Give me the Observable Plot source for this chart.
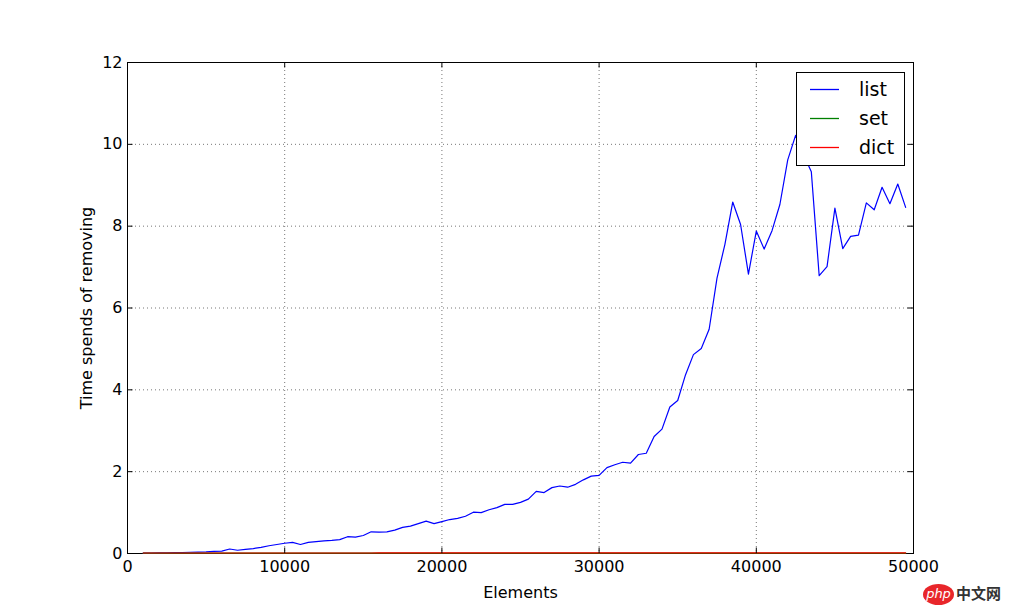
<!DOCTYPE html>
<html>
<head>
<meta charset="utf-8">
<script src="https://cdn.jsdelivr.net/npm/d3@7"></script>
<script src="https://cdn.jsdelivr.net/npm/@observablehq/plot@0.6"></script>
<style>
  html, body { margin: 0; padding: 0; background: #fff; }
  #wrap { position: relative; width: 1015px; height: 615px; font-family: "DejaVu Sans", sans-serif; }
  #legend { position: absolute; left: 796px; top: 72px; width: 107px; height: 92px; background: #fff; border: 1px solid #000; }
  #legend svg { position: absolute; left: 0; top: 0; }
  .lab { position: absolute; left: 62px; font-size: 19px; line-height: 24px; color: #000; }
  #wm { position: absolute; left: 923px; top: 584px; height: 22px; font-family: "Noto Sans CJK SC", sans-serif; }
  #wm .php { position: absolute; left: 0; top: 0; width: 31px; height: 21px; border-radius: 50%; background: #e8262a; color: #fff; font: italic 13px "DejaVu Sans", sans-serif; line-height: 20px; text-align: center; }
  #wm .cn { position: absolute; left: 33px; top: -2px; font-size: 15px; color: #333; white-space: nowrap; font-weight: bold; }
</style>
</head>
<body>
<div id="wrap"></div>
<script>
const elements = [1000,1500,2000,2500,3000,3500,4000,4500,5000,5500,6000,6500,7000,7500,8000,8500,9000,9500,10000,10500,11000,11500,12000,12500,13000,13500,14000,14500,15000,15500,16000,16500,17000,17500,18000,18500,19000,19500,20000,20500,21000,21500,22000,22500,23000,23500,24000,24500,25000,25500,26000,26500,27000,27500,28000,28500,29000,29500,30000,30500,31000,31500,32000,32500,33000,33500,34000,34500,35000,35500,36000,36500,37000,37500,38000,38500,39000,39500,40000,40500,41000,41500,42000,42500,43000,43500,44000,44500,45000,45500,46000,46500,47000,47500,48000,48500,49000,49500];

const listTimes = [0.01,0.012,0.015,0.018,0.02,0.025,0.03,0.035,0.04,0.05,0.06,0.11,0.08,0.10,0.12,0.15,0.19,0.22,0.25,0.27,0.22,0.27,0.29,0.31,0.32,0.34,0.41,0.40,0.44,0.53,0.52,0.53,0.57,0.64,0.67,0.73,0.79,0.73,0.78,0.83,0.86,0.91,1.01,1.00,1.07,1.12,1.20,1.20,1.25,1.33,1.52,1.49,1.61,1.65,1.62,1.69,1.80,1.89,1.91,2.10,2.17,2.23,2.21,2.42,2.45,2.86,3.04,3.58,3.74,4.37,4.86,5.01,5.48,6.73,7.55,8.59,8.04,6.83,7.88,7.44,7.89,8.53,9.62,10.22,9.75,9.33,6.79,7.01,8.44,7.45,7.75,7.78,8.57,8.40,8.95,8.55,9.03,8.46];

const setTimes = [0.01,0.01,0.01,0.01,0.01,0.01,0.01,0.01,0.01,0.01,0.01,0.01,0.01,0.01,0.01,0.01,0.01,0.01,0.01,0.01,0.01,0.01,0.01,0.01,0.01,0.01,0.01,0.01,0.01,0.01,0.01,0.01,0.01,0.01,0.01,0.01,0.01,0.01,0.01,0.01,0.01,0.01,0.01,0.01,0.01,0.01,0.01,0.01,0.01,0.01,0.011,0.011,0.011,0.011,0.011,0.011,0.011,0.011,0.011,0.011,0.011,0.011,0.011,0.011,0.011,0.011,0.011,0.011,0.011,0.011,0.011,0.011,0.011,0.011,0.011,0.011,0.011,0.011,0.011,0.011,0.011,0.011,0.011,0.011,0.011,0.011,0.011,0.011,0.011,0.011,0.011,0.011,0.011,0.011,0.011,0.011,0.011,0.011];

const dictTimes = [0.012,0.012,0.012,0.012,0.012,0.012,0.012,0.012,0.012,0.012,0.012,0.012,0.012,0.012,0.012,0.012,0.012,0.012,0.012,0.012,0.012,0.012,0.012,0.012,0.012,0.012,0.012,0.012,0.012,0.012,0.013,0.013,0.013,0.013,0.013,0.013,0.013,0.013,0.013,0.013,0.013,0.013,0.013,0.013,0.013,0.013,0.013,0.013,0.013,0.013,0.013,0.013,0.013,0.013,0.013,0.013,0.013,0.013,0.013,0.013,0.013,0.013,0.013,0.013,0.013,0.013,0.013,0.013,0.013,0.013,0.013,0.013,0.013,0.013,0.013,0.013,0.013,0.013,0.013,0.013,0.013,0.013,0.013,0.013,0.013,0.013,0.013,0.013,0.013,0.013,0.013,0.013,0.013,0.013,0.013,0.013,0.013,0.013];

const seriesNames = ["list", "set", "dict"];
const seriesColors = ["#0000ff", "#008000", "#ff0000"];
const xTicks = [0, 10000, 20000, 30000, 40000, 50000];
const yTicks = [0, 2, 4, 6, 8, 10, 12];

const allSeries = [listTimes, setTimes, dictTimes];
const data = [];
seriesNames.forEach((name, si) => {
  elements.forEach((e, i) => data.push({series: name, x: e, y: allSeries[si][i]}));
});

const tickLenX = 5.5 / (491 / 12);
const tickLenY = 5.5 / (786 / 50000);

const chart = Plot.plot({
  width: 1015,
  height: 615,
  marginLeft: 127,
  marginRight: 102,
  marginTop: 62,
  marginBottom: 62,
  style: {fontFamily: "DejaVu Sans, sans-serif", background: "white", overflow: "visible"},
  x: {domain: [0, 50000]},
  y: {domain: [0, 12]},
  color: {domain: seriesNames, range: seriesColors},
  marks: [
    Plot.ruleX(xTicks, {stroke: "#000", strokeWidth: 0.6, strokeDasharray: "1,3", strokeOpacity: 0.9}),
    Plot.ruleY(yTicks, {stroke: "#000", strokeWidth: 0.6, strokeDasharray: "1,3", strokeOpacity: 0.9}),
    Plot.frame({stroke: "#000", strokeWidth: 1}),
    Plot.line(data, {x: "x", y: "y", z: "series", stroke: "series", strokeWidth: 1.2}),
    Plot.ruleX(xTicks, {y1: 0, y2: tickLenX, stroke: "#000", strokeWidth: 1}),
    Plot.ruleX(xTicks, {y1: 12 - tickLenX, y2: 12, stroke: "#000", strokeWidth: 1}),
    Plot.ruleY(yTicks, {x1: 0, x2: tickLenY, stroke: "#000", strokeWidth: 1}),
    Plot.ruleY(yTicks, {x1: 50000 - tickLenY, x2: 50000, stroke: "#000", strokeWidth: 1}),
    Plot.axisX(xTicks, {tickSize: 0, tickPadding: 7, fontSize: 16, tickFormat: d => String(d), label: null, color: "#000"}),
    Plot.axisY(yTicks, {tickSize: 0, tickPadding: 5, fontSize: 16, tickFormat: d => String(d), label: null, color: "#000"}),
    Plot.text(["Elements"], {frameAnchor: "bottom", dy: 44, fontSize: 16, fill: "#000"}),
    Plot.text(["Time spends of removing"], {frameAnchor: "left", dx: -41, rotate: -90, textAnchor: "middle", fontSize: 16, fill: "#000"})
  ]
});

const wrap = document.getElementById("wrap");
wrap.appendChild(chart);

// legend
const legend = document.createElement("div");
legend.id = "legend";
const rowCenters = [16, 45, 74];
const ns = "http://www.w3.org/2000/svg";
const lsvg = document.createElementNS(ns, "svg");
lsvg.setAttribute("width", "107");
lsvg.setAttribute("height", "92");
seriesNames.forEach((name, i) => {
  const ln = document.createElementNS(ns, "line");
  ln.setAttribute("x1", "13");
  ln.setAttribute("x2", "42");
  ln.setAttribute("y1", rowCenters[i] + 0.5);
  ln.setAttribute("y2", rowCenters[i] + 0.5);
  ln.setAttribute("stroke", seriesColors[i]);
  ln.setAttribute("stroke-width", "1.3");
  lsvg.appendChild(ln);
});
legend.appendChild(lsvg);
seriesNames.forEach((name, i) => {
  const lab = document.createElement("div");
  lab.className = "lab";
  lab.style.top = (rowCenters[i] - 12) + "px";
  lab.textContent = name;
  legend.appendChild(lab);
});
wrap.appendChild(legend);

// watermark
const wm = document.createElement("div");
wm.id = "wm";
wm.innerHTML = '<div class="php">php</div><div class="cn">中文网</div>';
wrap.appendChild(wm);
</script>
</body>
</html>
